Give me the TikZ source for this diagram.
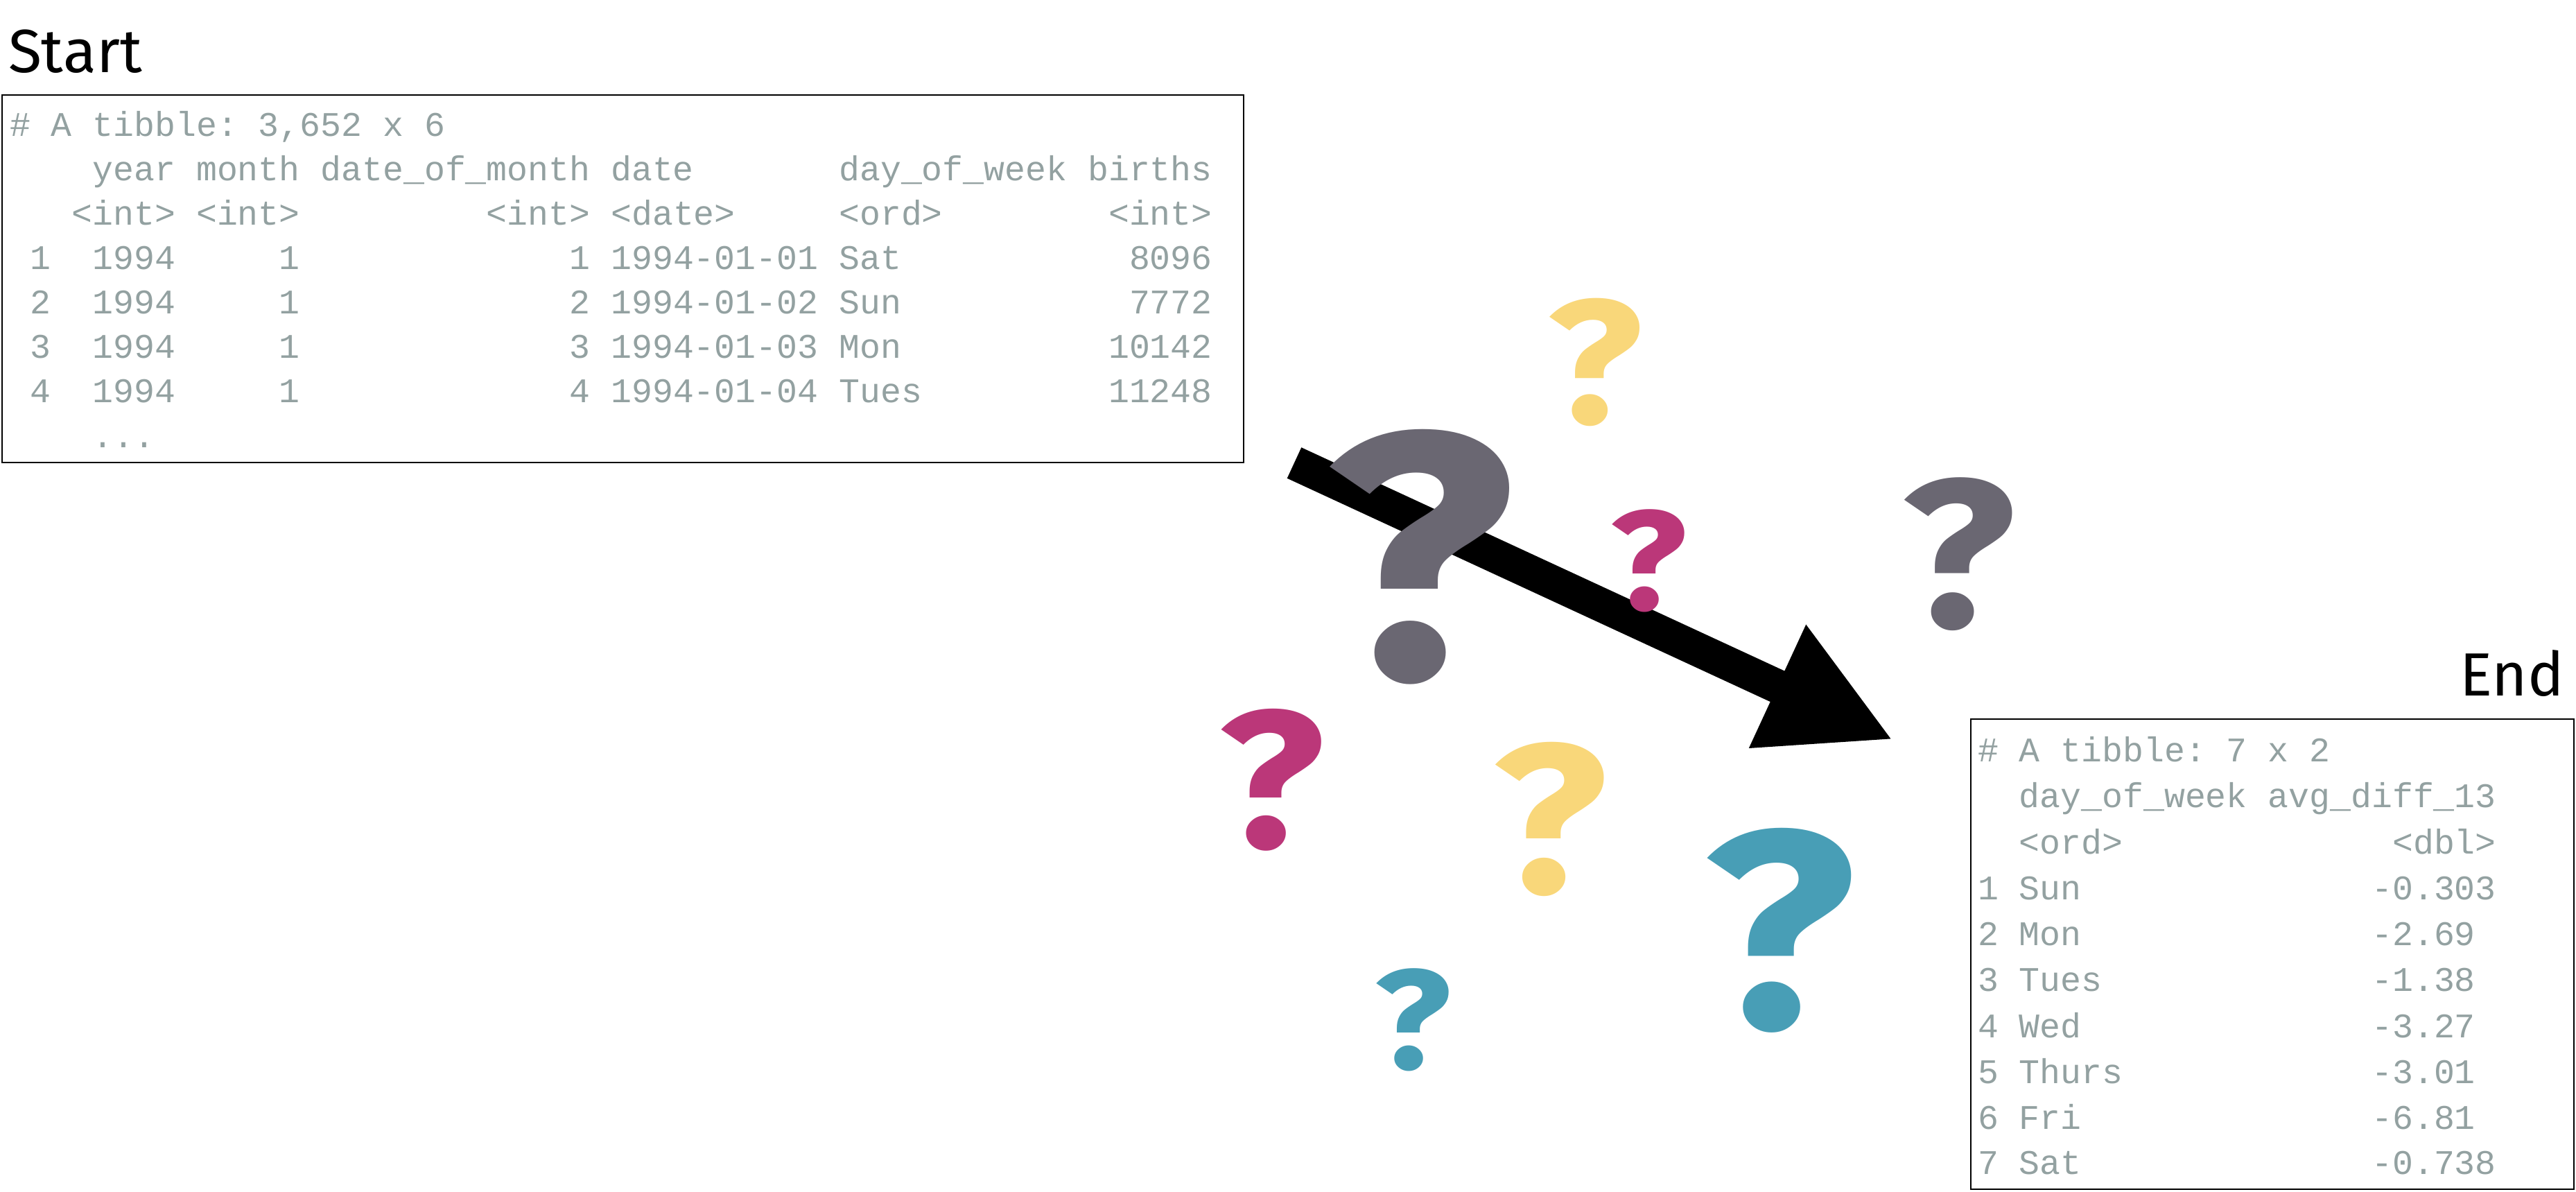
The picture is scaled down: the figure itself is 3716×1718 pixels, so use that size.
\documentclass[tikz,border=0pt]{standalone}
\usepackage{fontspec}
\usepackage{graphicx}
\usetikzlibrary{arrows.meta}
\setmonofont{Liberation Mono}
\newfontfamily\labelfont{Fira Sans}
\newfontfamily\qfont{Fira Sans}
\newcommand{\qmark}{\scalebox{1.13}[1]{\qfont\bfseries ?}}
\definecolor{tibgrey}{HTML}{93A1A1}
\definecolor{qyellow}{HTML}{F9D77A}
\definecolor{qgrey}{HTML}{6A6772}
\definecolor{qmagenta}{HTML}{BB3779}
\definecolor{qteal}{HTML}{489EB6}
\tikzset{
  tt/.style={anchor=base west,inner sep=0pt,outer sep=0pt,text=tibgrey,font=\ttfamily\fontsize{12.46}{15}\selectfont},
  tablebox/.style={draw=black,line width=0.65pt,inner sep=0pt,outer sep=0pt,fill=white},
  heading/.style={inner sep=0pt,outer sep=0pt,text=black,font=\labelfont\fontsize{22}{27}\selectfont},
  qm/.style={anchor=base,inner sep=0pt,outer sep=0pt,font=\fontsize{#1}{#1}\selectfont},
  bigarrow/.style={line width=12.25pt,-{Triangle[length=46pt,width=45.5pt]},black}
}
\begin{document}
\begin{tikzpicture}[x=0.25pt,y=-0.25pt]
\useasboundingbox (0,0) rectangle (3716,1718);
\node[heading,anchor=base west] (starthead) at (12,104) {Start};
\node[heading,anchor=base east] (endhead) at (3699,1003) {End};
\node[tablebox,minimum width=447.75pt,minimum height=132.5pt,anchor=north west] (starttable) at (3,137) {};
\node[tablebox,minimum width=217.5pt,minimum height=169.5pt,anchor=north west] (endtable) at (2843,1037) {};
\node[tt] (s0) at (14,196) {\#~A~tibble:~3,652~x~6};
\node[tt] (s1) at (14,260) {~~~~year~month~date\_of\_month~date~~~~~~~day\_of\_week~births};
\node[tt] (s2) at (14,324) {~~~<int>~<int>~~~~~~~~~<int>~<date>~~~~~<ord>~~~~~~~~<int>};
\node[tt] (s3) at (14,388) {~1~~1994~~~~~1~~~~~~~~~~~~~1~1994-01-01~Sat~~~~~~~~~~~8096};
\node[tt] (s4) at (14,452) {~2~~1994~~~~~1~~~~~~~~~~~~~2~1994-01-02~Sun~~~~~~~~~~~7772};
\node[tt] (s5) at (14,516) {~3~~1994~~~~~1~~~~~~~~~~~~~3~1994-01-03~Mon~~~~~~~~~~10142};
\node[tt] (s6) at (14,580) {~4~~1994~~~~~1~~~~~~~~~~~~~4~1994-01-04~Tues~~~~~~~~~11248};
\node[tt] (s7) at (14,645) {~~~~...};
\node[tt] (e0) at (2853,1098) {\#~A~tibble:~7~x~2};
\node[tt] (e1) at (2853,1164) {~~day\_of\_week~avg\_diff\_13};
\node[tt] (e2) at (2853,1231) {~~<ord>~~~~~~~~~~~~~<dbl>};
\node[tt] (e3) at (2853,1297) {1~Sun~~~~~~~~~~~~~~-0.303};
\node[tt] (e4) at (2853,1363) {2~Mon~~~~~~~~~~~~~~-2.69};
\node[tt] (e5) at (2853,1429) {3~Tues~~~~~~~~~~~~~-1.38};
\node[tt] (e6) at (2853,1496) {4~Wed~~~~~~~~~~~~~~-3.27};
\node[tt] (e7) at (2853,1562) {5~Thurs~~~~~~~~~~~~-3.01};
\node[tt] (e8) at (2853,1628) {6~Fri~~~~~~~~~~~~~~-6.81};
\node[tt] (e9) at (2853,1693) {7~Sat~~~~~~~~~~~~~~-0.738};
\coordinate (arrowtail) at (1867,667.5);
\coordinate (arrowtip) at (2731,1067);
\draw[bigarrow] (arrowtail) -- (arrowtip);
\node[qm=63.5,text=qyellow] (q1) at (2301,610) {\qmark};
\node[qm=126.5,text=qgrey] (q2) at (2048,978) {\qmark};
\node[qm=51,text=qmagenta] (q3) at (2378,879) {\qmark};
\node[qm=76,text=qgrey] (q4) at (2825,904) {\qmark};
\node[qm=70.5,text=qmagenta] (q5) at (1834,1222) {\qmark};
\node[qm=76.5,text=qyellow] (q6) at (2236,1287) {\qmark};
\node[qm=101.5,text=qteal] (q7) at (2567,1482) {\qmark};
\node[qm=51,text=qteal] (q8) at (2038,1541) {\qmark};
\end{tikzpicture}
\end{document}
